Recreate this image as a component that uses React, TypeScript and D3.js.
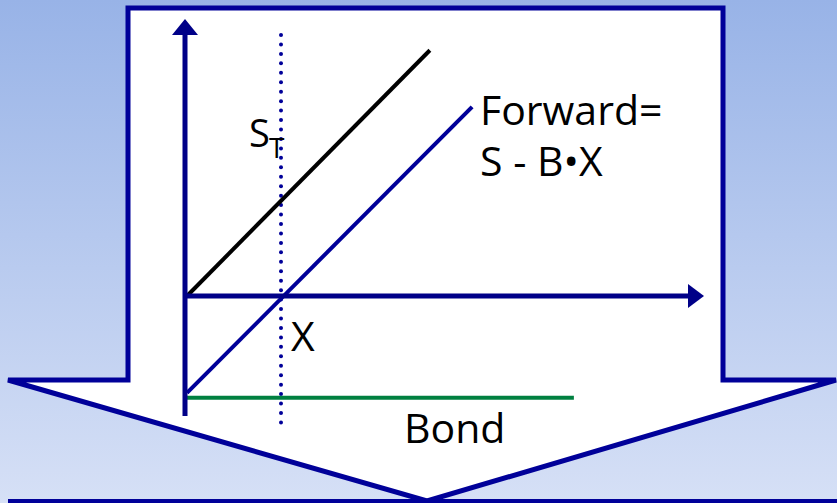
import React from "react";
import * as d3 from "d3";

// payoff diagram data (units: strike X = 1)
const spotLine: [number, number][] = [[0, 0], [2.53, 2.56]];
const forwardLine: [number, number][] = [[0, -1.01], [2.97, 1.97]];
const bondLine: [number, number][] = [[0, -1.06], [4.03, -1.06]];
const strikeX = 1;
const labels = {
  spot: "S",
  spotSub: "T",
  forward1: "Forward=",
  forward2: "S - B•X",
  strike: "X",
  bond: "Bond",
};

const W = 837;
const H = 503;

export default function App() {
  const x = d3.scaleLinear().domain([0, 1]).range([187, 283]);
  const y = d3.scaleLinear().domain([0, 1]).range([296, 200]);
  const line = d3
    .line<[number, number]>()
    .x((d) => x(d[0]))
    .y((d) => y(d[1]));

  const outline = [
    [128, 8],
    [723, 8],
    [723, 380],
    [836, 380],
    [427, 501],
    [8, 380],
    [128, 380],
  ];
  const outlinePath = "M" + outline.map((p) => p.join(",")).join("L") + "Z";

  const x0 = x(0);
  const y0 = y(0);
  const axisColor = "#000088";
  const font = "'Open Sans', 'Noto Sans', sans-serif";

  // dots of strike line
  const dots: number[] = [];
  for (let yy = 35; yy <= 425; yy += 9.45) dots.push(yy);

  return (
    <svg
      width={W}
      height={H}
      style={{ position: "absolute", left: 0, top: 0, display: "block" }}
    >
      <defs>
        <linearGradient id="bg" x1="0" y1="0" x2="0" y2="1">
          <stop offset="0" stopColor="#98b3e7" />
          <stop offset="1" stopColor="#d6e0f6" />
        </linearGradient>
      </defs>
      <rect x={0} y={0} width={W} height={H} fill="url(#bg)" />
      <path
        d={outlinePath}
        fill="#ffffff"
        stroke="#000099"
        strokeWidth={5}
        strokeLinejoin="miter"
      />
      <line x1={8} x2={W} y1={501} y2={501} stroke="#000099" strokeWidth={4} />

      {/* strike dotted line */}
      {dots.map((yy, i) => (
        <circle key={i} cx={x(strikeX) - 2} cy={yy} r={2} fill="#000099" />
      ))}

      {/* bond */}
      <path d={line(bondLine) || ""} stroke="#008040" strokeWidth={4} fill="none" />
      {/* spot */}
      <path d={line(spotLine) || ""} stroke="#000000" strokeWidth={4} fill="none" />
      {/* forward */}
      <path d={line(forwardLine) || ""} stroke="#000099" strokeWidth={4} fill="none" />

      {/* axes */}
      <line x1={x0 - 2} x2={x0 - 2} y1={416} y2={32} stroke={axisColor} strokeWidth={5} />
      <polygon points={`${x0 - 2},19 ${x0 - 15},35 ${x0 + 11},35`} fill={axisColor} />
      <line x1={x0 - 4} x2={690} y1={y0} y2={y0} stroke={axisColor} strokeWidth={5} />
      <polygon points={`704,${y0} 688,${y0 - 12} 688,${y0 + 12}`} fill={axisColor} />

      {/* labels */}
      <text x={249} y={147} fontFamily={font} fontSize={38} fill="#000">
        {labels.spot}
      </text>
      <text x={269} y={158} fontFamily={font} fontSize={28} fill="#000">
        {labels.spotSub}
      </text>
      <text x={480} y={125} fontFamily={font} fontSize={41} fill="#000">
        {labels.forward1}
      </text>
      <text x={480} y={176} fontFamily={font} fontSize={41} fill="#000">
        {labels.forward2}
      </text>
      <text x={291} y={351} fontFamily={font} fontSize={41} fill="#000">
        {labels.strike}
      </text>
      <text x={404} y={443} fontFamily={font} fontSize={41} fill="#000">
        {labels.bond}
      </text>
    </svg>
  );
}
